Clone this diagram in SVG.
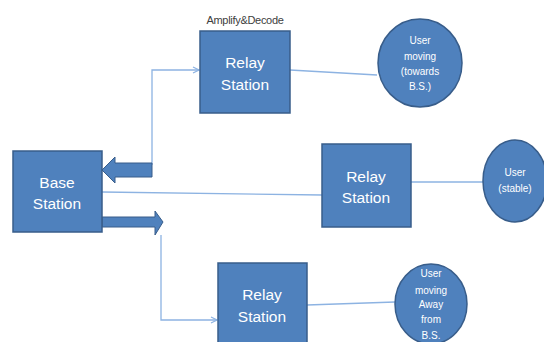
<svg xmlns="http://www.w3.org/2000/svg" width="544" height="342" viewBox="0 0 544 342">
<style>
.box{fill:#4F81BD;stroke:#385D8A;stroke-width:1.5}
.lbl{fill:#fff;font-family:"Liberation Sans",Arial,sans-serif;font-size:15.5px;text-anchor:middle}
.sm{fill:#fff;font-family:"Liberation Sans",Arial,sans-serif;font-size:10px;text-anchor:middle}
.con{fill:none;stroke:#8DB3E2;stroke-width:1.3}
.big{fill:#4F81BD;stroke:#385D8A;stroke-width:1}
</style>
<defs>
<marker id="ah" markerWidth="8" markerHeight="8" refX="7" refY="4" orient="auto" markerUnits="userSpaceOnUse">
<path d="M1,1 L7,4 L1,7" fill="none" stroke="#8DB3E2" stroke-width="1.2"/>
</marker>
</defs>
<rect width="544" height="342" fill="#fff"/>
<g id="connectors">
<polyline class="con" points="152,165 152,70 199,70" marker-end="url(#ah)"/>
<polyline class="con" points="161,235 161,320 217,320" marker-end="url(#ah)"/>
<line class="con" x1="102" y1="192" x2="322" y2="195"/>
<line class="con" x1="290" y1="70" x2="377" y2="75"/>
<line class="con" x1="411" y1="182" x2="483" y2="182"/>
<line class="con" x1="307" y1="305" x2="395" y2="302"/>
<path class="big" d="M152,163 L115,163 L115,157 L102,170 L115,183 L115,177 L152,177 Z"/>
<path class="big" d="M102,217 L155,217 L155,211 L163,222 L155,235 L155,227 L102,227 Z"/>
</g>
<text x="245" y="24" font-family="'Liberation Sans',Arial,sans-serif" font-size="11" fill="#404040" text-anchor="middle" letter-spacing="-0.3">Amplify&amp;Decode</text>
<g id="base">
<rect class="box" x="13" y="151" width="89" height="81"/>
<text class="lbl" x="57" y="188">Base</text>
<text class="lbl" x="57" y="209">Station</text>
</g>
<g id="relay1">
<rect class="box" x="200" y="31" width="90" height="82"/>
<text class="lbl" x="245" y="68">Relay</text>
<text class="lbl" x="245" y="90">Station</text>
</g>
<g id="relay2">
<rect class="box" x="322" y="144" width="89" height="83"/>
<text class="lbl" x="366" y="182">Relay</text>
<text class="lbl" x="366" y="203">Station</text>
</g>
<g id="relay3">
<rect class="box" x="218" y="263" width="89" height="90"/>
<text class="lbl" x="262" y="300">Relay</text>
<text class="lbl" x="262" y="322">Station</text>
</g>
<g id="user1">
<ellipse class="box" cx="420" cy="63" rx="42" ry="44"/>
<text class="sm" x="420" y="44">User</text>
<text class="sm" x="420" y="60">moving</text>
<text class="sm" x="420" y="75">(towards</text>
<text class="sm" x="420" y="90">B.S.)</text>
</g>
<g id="user2">
<ellipse class="box" cx="515" cy="181" rx="32" ry="41"/>
<text class="sm" x="515" y="176" font-size="9">User</text>
<text class="sm" x="515" y="192" font-size="9">(stable)</text>
</g>
<g id="user3">
<ellipse class="box" cx="431" cy="304" rx="36" ry="40"/>
<text class="sm" x="431" y="277" font-size="9.5">User</text>
<text class="sm" x="431" y="294" font-size="9.5">moving</text>
<text class="sm" x="431" y="308" font-size="9.5">Away</text>
<text class="sm" x="431" y="323" font-size="9.5">from</text>
<text class="sm" x="431" y="339" font-size="9.5">B.S.</text>
</g>
</svg>
